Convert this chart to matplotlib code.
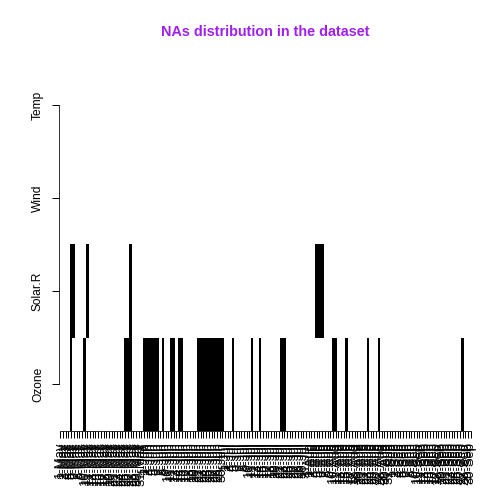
import numpy as np
import matplotlib
matplotlib.use("Agg")
import matplotlib.pyplot as plt
from matplotlib.colors import ListedColormap

plt.rcParams['font.family'] = ['Liberation Sans', 'DejaVu Sans']

# airquality: which rows are missing, per variable
variables = ["Ozone", "Solar.R", "Wind", "Temp"]
n_rows = 153
ozone_na_rows = [5, 10, 25, 26, 27, 32, 33, 34, 35, 36, 37, 39, 42, 43, 45, 46,
                 52, 53, 54, 55, 56, 57, 58, 59, 60, 61, 65, 72, 75, 83, 84,
                 102, 103, 107, 115, 119, 150]
solar_na_rows = [5, 6, 11, 27, 96, 97, 98]
wind_na_rows = []
temp_na_rows = []

months = ["May", "Jun", "Jul", "Aug", "Sep"]
days_in_month = [31, 30, 31, 31, 30]
row_labels = [f"{d}-{m}" for m, nd in zip(months, days_in_month) for d in range(1, nd + 1)]

na_rows = [ozone_na_rows, solar_na_rows, wind_na_rows, temp_na_rows]
mat = np.zeros((len(variables), n_rows))
for j, rows in enumerate(na_rows):
    for r in rows:
        mat[j, r - 1] = 1

fig = plt.figure(figsize=(7, 7), dpi=72)
ax = fig.add_axes([59 / 504, 1 - 430.5 / 504, (472 - 59) / 504, (430.5 - 58.5) / 504])

xe = np.arange(n_rows + 1) + 0.5
ye = np.arange(len(variables) + 1) + 0.5
ax.pcolormesh(xe, ye, mat, cmap=ListedColormap(["white", "black"]), vmin=0, vmax=1)
ax.set_xlim(0.5, n_rows + 0.5)
ax.set_ylim(0.5, len(variables) + 0.5)

ax.spines['top'].set_visible(False)
ax.spines['right'].set_visible(False)
ax.spines['left'].set_bounds(1, len(variables))
ax.spines['bottom'].set_bounds(1, n_rows)

ax.set_xticks(np.arange(1, n_rows + 1))
ax.set_xticklabels(row_labels, rotation=90, fontsize=13)
ax.set_yticks(np.arange(1, len(variables) + 1))
ax.set_yticklabels(variables, rotation=90, va='center', fontsize=12)
ax.tick_params(axis='x', length=7, width=1, pad=5)
ax.tick_params(axis='y', length=7, width=1, pad=8)

fig.text((59 + 472) / 2 / 504, 1 - 32 / 504, "NAs distribution in the dataset",
         ha='center', va='center', color="#A020F0", fontsize=14.4, fontweight='bold')

fig.savefig("out.png", dpi=72)
